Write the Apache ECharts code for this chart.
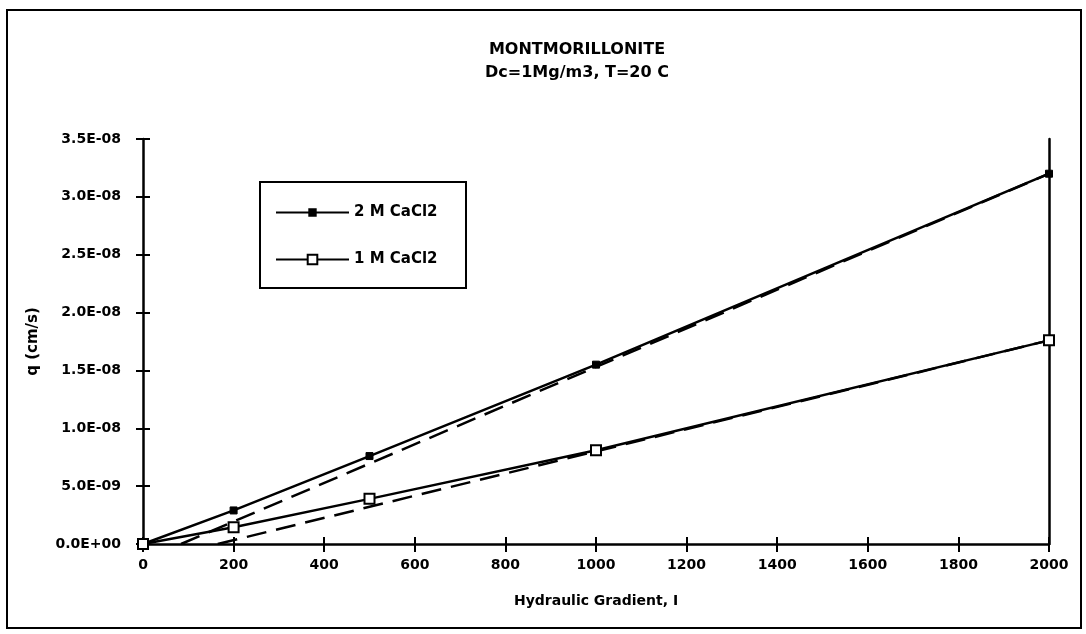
<!DOCTYPE html>
<html>
<head>
<meta charset="utf-8">
<script src="https://cdn.jsdelivr.net/npm/echarts@6/dist/echarts.min.js"></script>
<style>
  html, body { margin: 0; padding: 0; background: #fff; }
  #chart { width: 1086px; height: 634px; }
</style>
</head>
<body>
<div id="chart"></div>
<script>
// Hydraulic gradient (I) at which flow was measured
const gradient = [0, 200, 500, 1000, 2000];
// Measured flux q (cm/s)
const q2M = [0, 2.9e-9, 7.6e-9, 1.55e-8, 3.2e-8];
const q1M = [0, 1.45e-9, 3.9e-9, 8.1e-9, 1.76e-8];
// Linear fit lines: [gradient, q] end points
const fit2M = [[84, 0], [2000, 3.2e-8]];
const fit1M = [[165, 0], [2000, 1.76e-8]];

const seriesNames = ['2 M CaCl2', '1 M CaCl2'];
const titleLines = ['MONTMORILLONITE', 'Dc=1Mg/m3, T=20 C'];
const xTitle = 'Hydraulic Gradient, I';
const yTitle = 'q (cm/s)';

const FONT = 'DejaVu Sans';

function sciLabel(v) {
  if (v === 0) return '0.0E+00';
  let [m, e] = v.toExponential(1).split('e');
  const sign = e[0] === '-' ? '-' : '+';
  let digits = e.replace(/[+-]/, '');
  if (digits.length < 2) digits = '0' + digits;
  return m + 'E' + sign + digits;
}

const pairs = (ys) => gradient.map((x, i) => [x, ys[i]]);

const chart = echarts.init(document.getElementById('chart'), null, { renderer: 'canvas' });

const labelStyle = { color: '#000', fontFamily: FONT, fontWeight: 'bold', fontSize: 14 };
const legendText = { color: '#000', fontFamily: FONT, fontWeight: 'bold', fontSize: 15 };

chart.setOption({
  animation: false,
  backgroundColor: '#fff',
  title: {
    text: titleLines.join('\n'),
    left: 572, top: 33,
    textAlign: 'center',
    textStyle: { color: '#000', fontFamily: FONT, fontWeight: 'bold', fontSize: 16, lineHeight: 23 }
  },
  graphic: [{
    // outer chart frame
    type: 'rect',
    shape: { x: 7, y: 10, width: 1074, height: 618 },
    style: { fill: 'none', stroke: '#000', lineWidth: 2 },
    silent: true
  }, {
    // legend box
    type: 'rect',
    shape: { x: 260, y: 182, width: 206, height: 106 },
    style: { fill: 'none', stroke: '#000', lineWidth: 2 },
    silent: true
  }],
  grid: { left: 143, right: 37, top: 139, bottom: 90 },
  legend: [{
    data: [seriesNames[0]],
    left: 261, top: 202,
    itemWidth: 73, itemHeight: 8,
    padding: [3, 0, 3, 14],
    textStyle: legendText
  }, {
    data: [seriesNames[1]],
    left: 261, top: 249,
    itemWidth: 73, itemHeight: 12,
    padding: [3, 0, 3, 14],
    textStyle: legendText
  }],
  xAxis: [{
    type: 'value', min: 0, max: 2000, interval: 200,
    name: xTitle, nameLocation: 'middle', nameGap: 50,
    nameTextStyle: { color: '#000', fontFamily: FONT, fontWeight: 'bold', fontSize: 14 },
    axisLine: { lineStyle: { color: '#000', width: 2.5 } },
    axisTick: { show: true, length: 8, lineStyle: { color: '#000', width: 2 } },
    axisLabel: Object.assign({ margin: 14, formatter: (v) => String(v) }, labelStyle),
    splitLine: { show: false }
  }, {
    type: 'value', min: 0, max: 2000, interval: 200, position: 'bottom',
    axisLine: { show: false },
    axisTick: { show: true, inside: true, length: 7, lineStyle: { color: '#000', width: 2 } },
    axisLabel: { show: false },
    splitLine: { show: false }
  }],
  yAxis: [{
    type: 'value', min: 0, max: 3.5e-8, interval: 5e-9,
    name: yTitle, nameLocation: 'middle', nameGap: 102, nameRotate: 90,
    nameTextStyle: { color: '#000', fontFamily: FONT, fontWeight: 'bold', fontSize: 15 },
    axisLine: { show: true, lineStyle: { color: '#000', width: 2.5 } },
    axisTick: { show: true, length: 7, lineStyle: { color: '#000', width: 2 } },
    axisLabel: Object.assign({ margin: 22, formatter: sciLabel }, labelStyle),
    splitLine: { show: false }
  }, {
    type: 'value', min: 0, max: 3.5e-8, interval: 5e-9, position: 'left',
    axisLine: { show: false },
    axisTick: { show: true, inside: true, length: 7, lineStyle: { color: '#000', width: 2 } },
    axisLabel: { show: false },
    splitLine: { show: false }
  }, {
    type: 'value', min: 0, max: 3.5e-8, interval: 5e-9, position: 'right',
    axisLine: { show: true, lineStyle: { color: '#000', width: 2.5 } },
    axisTick: { show: false },
    axisLabel: { show: false },
    splitLine: { show: false }
  }],
  series: [{
    name: 'fit 2M', type: 'line', data: fit2M,
    symbol: 'none', silent: true, z: 1,
    lineStyle: { color: '#000', width: 2.5, type: [20, 10] }
  }, {
    name: 'fit 1M', type: 'line', data: fit1M,
    symbol: 'none', silent: true, z: 1,
    lineStyle: { color: '#000', width: 2.5, type: [20, 10] }
  }, {
    name: seriesNames[0], type: 'line', data: pairs(q2M),
    symbol: 'rect', symbolSize: 7, z: 3,
    lineStyle: { color: '#000', width: 2.5 },
    itemStyle: { color: '#000', borderColor: '#000', borderWidth: 1 }
  }, {
    name: seriesNames[1], type: 'line', data: pairs(q1M),
    symbol: 'rect', symbolSize: 10, z: 4,
    lineStyle: { color: '#000', width: 2.5 },
    itemStyle: { color: '#fff', borderColor: '#000', borderWidth: 2 }
  }]
});
</script>
</body>
</html>
